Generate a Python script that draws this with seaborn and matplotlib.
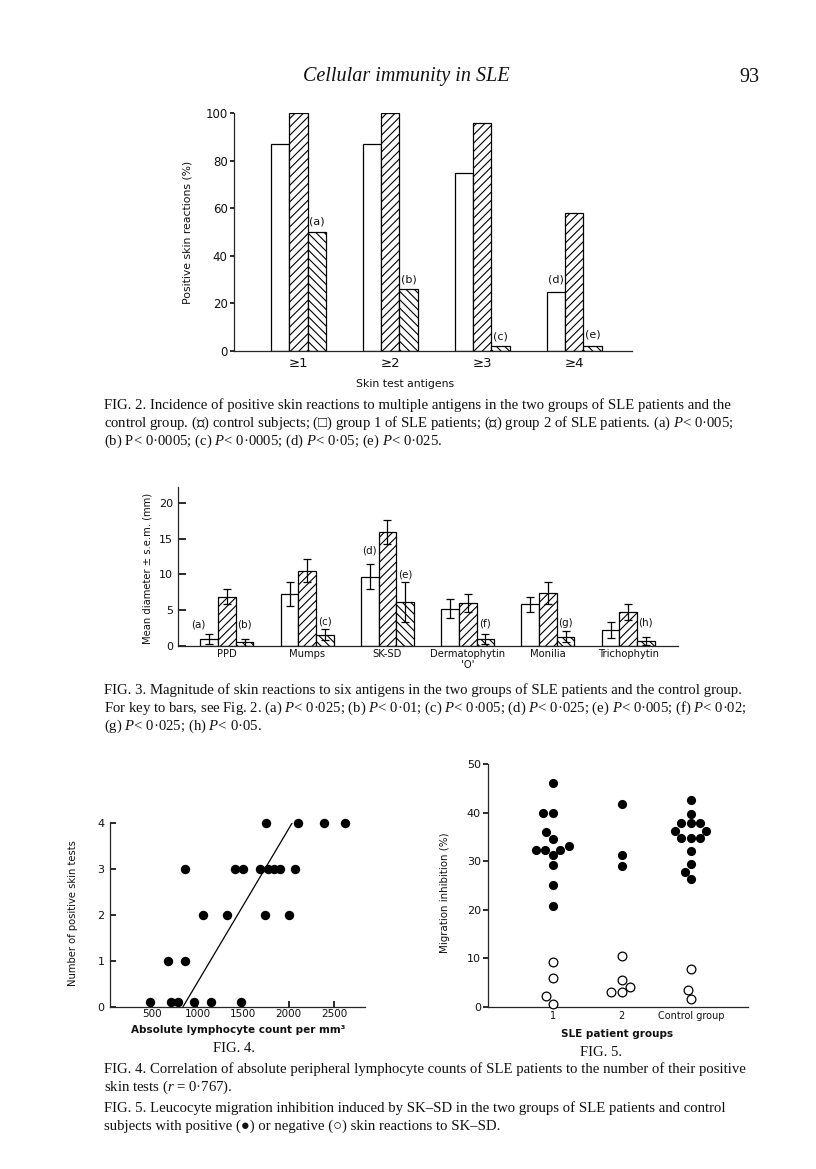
import numpy as np
import pandas as pd
import matplotlib
matplotlib.use('Agg')
import matplotlib.pyplot as plt
import seaborn as sns

W, H = 816, 1169

# Fig. 2 - percent positive skin reactions
fig2_antigens = ['≥1', '≥2', '≥3', '≥4']
fig2_group1 = [87, 87, 75, 25]
fig2_control = [100, 100, 96, 58]
fig2_group2 = [50, 26, 2, 2]
# (label, antigen index, bar index, y)
fig2_notes = [('(a)', 0, 2, 54.5), ('(b)', 1, 2, 30), ('(c)', 2, 2, 6),
              ('(d)', 3, 0, 30), ('(e)', 3, 2, 7)]

# Fig. 3 - mean diameter +- s.e.m.
fig3_antigens = ['PPD', 'Mumps', 'SK-SD', "Dermatophytin\n'O'", 'Monilia', 'Trichophytin']
fig3_group1_mean = [1.0, 7.3, 9.7, 5.2, 5.8, 2.2]
fig3_group1_sem = [0.7, 1.7, 1.8, 1.3, 1.0, 1.1]
fig3_control_mean = [6.9, 10.5, 15.9, 6.0, 7.4, 4.8]
fig3_control_sem = [1.1, 1.6, 1.7, 1.2, 1.5, 1.1]
fig3_group2_mean = [0.5, 1.6, 6.1, 1.0, 1.3, 0.7]
fig3_group2_sem = [0.45, 0.8, 2.8, 0.7, 0.8, 0.55]
fig3_notes = [('(a)', 0, 0, 3.0, -0.6), ('(b)', 0, 2, 3.0, 0), ('(c)', 1, 2, 3.4, 0),
              ('(d)', 2, 0, 13.4, 0), ('(e)', 2, 2, 10.0, 0), ('(f)', 3, 2, 3.2, 0),
              ('(g)', 4, 2, 3.2, 0), ('(h)', 5, 2, 3.3, 0)]

# Fig. 4 - lymphocyte count vs number of positive skin tests
fig4_count = [475, 707, 791, 962, 1144, 1482,
              675, 864,
              1056, 1325, 1744, 2009,
              864, 1409, 1500, 1682, 1773, 1845, 1911, 2075,
              1751, 2104, 2391, 2616]
fig4_tests = [0.1] * 6 + [1] * 2 + [2] * 4 + [3] * 8 + [4] * 4
fig4_line_x = [840, 2040]
fig4_line_y = [0, 4]

# Fig. 5 - migration inhibition
fig5_groups = ['1', '2', 'Control group']
fig5_g1_pos = [46.0, 39.9, 39.9, 36.0, 34.6, 33.2, 32.4, 32.4, 32.4, 31.2, 29.3, 25.1, 20.7]
fig5_g1_neg = [9.3, 5.9, 2.3, 0.7]
fig5_g2_pos = [41.7, 31.3, 29.0]
fig5_g2_neg = [10.4, 5.5, 4.2, 3.0, 3.0]
fig5_ctl_pos = [42.5, 39.7, 37.8, 37.8, 37.8, 36.2, 36.2, 34.7, 34.7, 34.7, 32.0, 29.5, 27.8, 26.3]
fig5_ctl_neg = [7.9, 3.6, 1.6]

sns.set_theme(style='ticks')
plt.rcParams['font.family'] = ['DejaVu Sans']
plt.rcParams['mathtext.fontset'] = 'custom'
plt.rcParams['mathtext.it'] = 'Liberation Serif:italic'
plt.rcParams['mathtext.rm'] = 'Liberation Serif'
plt.rcParams['hatch.linewidth'] = 0.8
plt.rcParams['axes.linewidth'] = 0.9
INK = '#111111'
SERIF = ['Liberation Serif', 'DejaVu Sans']

fig = plt.figure(figsize=(W / 100, H / 100), dpi=100)
fig.patch.set_facecolor('white')


def add_ax(l, t, r, b):
    ax = fig.add_axes([l / W, 1 - b / H, (r - l) / W, (b - t) / H])
    ax.set_facecolor('none')
    sns.despine(ax=ax)
    return ax


def ftext(x, y, s, **kw):
    kw.setdefault('color', INK)
    return fig.text(x / W, 1 - y / H, s, **kw)


# page header
ftext(406, 77, 'Cellular immunity in SLE', ha='center', va='center', family=SERIF,
      style='italic', fontsize=14.5)
ftext(749, 77, '93', ha='center', va='center', family=SERIF, fontsize=14.5)

# ---------------- Fig. 2 ----------------
ax2 = add_ax(234, 113, 632, 351)
df2 = pd.DataFrame({
    'antigens': fig2_antigens * 3,
    'pct': fig2_group1 + fig2_control + fig2_group2,
    'group': ['g1'] * 4 + ['ctl'] * 4 + ['g2'] * 4,
})
sns.barplot(data=df2, x='antigens', y='pct', hue='group', hue_order=['g1', 'ctl', 'g2'],
            palette=['white', 'white', 'white'], saturation=1, width=0.6,
            edgecolor='black', linewidth=0.9, legend=False, ax=ax2)
for cont, h in zip(ax2.containers, ['', '////', '\\\\\\\\']):
    for bar in cont:
        bar.set_hatch(h)
for lab, i, j, y in fig2_notes:
    bar = ax2.containers[j][i]
    ax2.text(bar.get_x() + bar.get_width() / 2, y, lab, ha='center', va='center',
             fontsize=8, color=INK)
ax2.set_xlim(-0.70, 3.63)
ax2.set_ylim(0, 100)
ax2.set_yticks([0, 20, 40, 60, 80, 100])
ax2.tick_params(axis='y', direction='out', length=3, pad=1.5, labelsize=8.5, colors=INK)
ax2.tick_params(axis='x', length=0, pad=4.5, labelsize=9.5, colors=INK)
ax2.set_xlabel('')
ax2.set_ylabel('')
ftext(188, 232, 'Positive skin reactions (%)', rotation=90, ha='center', va='center', fontsize=7.8)
ftext(405, 384, 'Skin test antigens', ha='center', va='center', fontsize=7.8)

cap_kw = dict(family=SERIF, fontsize=10.6, ha='left', va='center')
ftext(104, 405, 'FIG. 2. Incidence of positive skin reactions to multiple antigens in the two groups of SLE patients and the', **cap_kw)
ftext(104, 423, 'control group. (▨) control subjects; (□) group 1 of SLE patients; (▧) group 2 of SLE patients. (a) $P$< 0·005;', **cap_kw)
ftext(104, 441, '(b) P< 0·0005; (c) $P$< 0·0005; (d) $P$< 0·05; (e) $P$< 0·025.', **cap_kw)

# ---------------- Fig. 3 ----------------
ax3 = add_ax(178, 487, 678, 646)
df3 = pd.DataFrame({
    'antigen': fig3_antigens * 3,
    'mm': fig3_group1_mean + fig3_control_mean + fig3_group2_mean,
    'group': ['g1'] * 6 + ['ctl'] * 6 + ['g2'] * 6,
})
sns.barplot(data=df3, x='antigen', y='mm', hue='group', hue_order=['g1', 'ctl', 'g2'],
            palette=['white', 'white', 'white'], saturation=1, width=0.66,
            edgecolor='black', linewidth=0.9, legend=False, errorbar=None, ax=ax3)
for cont, h, means, sems in zip(ax3.containers, ['', '////', '\\\\\\\\'],
                                [fig3_group1_mean, fig3_control_mean, fig3_group2_mean],
                                [fig3_group1_sem, fig3_control_sem, fig3_group2_sem]):
    xs = []
    for bar in cont:
        bar.set_hatch(h)
        xs.append(bar.get_x() + bar.get_width() / 2)
    ax3.errorbar(xs, means, yerr=sems, fmt='none', ecolor='black', elinewidth=0.9,
                 capsize=2.8, capthick=0.9)
for lab, i, j, y, dx in fig3_notes:
    bar = ax3.containers[j][i]
    ax3.text(bar.get_x() + bar.get_width() * (0.5 + dx), y, lab, ha='center', va='center',
             fontsize=7.5, color=INK)
ax3.set_xlim(-0.61, 5.62)
ax3.set_ylim(0, 22.2)
ax3.set_yticks([0, 5, 10, 15, 20])
ax3.tick_params(axis='y', direction='in', length=6, pad=3.5, labelsize=8, colors=INK)
ax3.tick_params(axis='x', length=0, pad=2.5, labelsize=7.2, colors=INK)
for t in ax3.get_xticklabels():
    t.set_linespacing(1.05)
ax3.set_xlabel('')
ax3.set_ylabel('')
ftext(148, 568, 'Mean diameter ± s.e.m. (mm)', rotation=90, ha='center', va='center', fontsize=7.2)

ftext(104, 690, 'FIG. 3. Magnitude of skin reactions to six antigens in the two groups of SLE patients and the control group.', **cap_kw)
ftext(104, 708, 'For key to bars, see Fig. 2. (a) $P$< 0·025; (b) $P$< 0·01; (c) $P$< 0·005; (d) $P$< 0·025; (e) $P$< 0·005; (f) $P$< 0·02;', **cap_kw)
ftext(104, 726, '(g) $P$< 0·025; (h) $P$< 0·05.', **cap_kw)

# ---------------- Fig. 4 ----------------
ax4 = add_ax(110, 823, 365, 1007)
sns.scatterplot(x=fig4_count, y=fig4_tests, color='black', s=46, linewidth=0,
                clip_on=False, ax=ax4)
sns.lineplot(x=fig4_line_x, y=fig4_line_y, color='black', linewidth=0.9, ax=ax4)
ax4.set_xlim(40, 2840)
ax4.set_ylim(0, 4)
ax4.set_xticks([500, 1000, 1500, 2000, 2500])
ax4.set_yticks([0, 1, 2, 3, 4])
ax4.tick_params(axis='x', direction='in', length=4, pad=1.5, labelsize=7.5, colors=INK)
ax4.tick_params(axis='y', direction='in', length=4, pad=4, labelsize=8, colors=INK)
ftext(73, 913, 'Number of positive skin tests', rotation=90, ha='center', va='center', fontsize=7.2)
ftext(238, 1030, 'Absolute lymphocyte count per mm³', ha='center', va='center',
      fontsize=7.5, fontweight='bold')
ftext(234, 1049, 'FIG. 4.', ha='center', va='center', family=SERIF, fontsize=10.5)

# ---------------- Fig. 5 ----------------
ax5 = add_ax(488, 764, 748, 1007)
df5 = pd.concat([
    pd.DataFrame({'group': '1', 'pct': fig5_g1_pos, 'skin': 'pos'}),
    pd.DataFrame({'group': '1', 'pct': fig5_g1_neg, 'skin': 'neg'}),
    pd.DataFrame({'group': '2', 'pct': fig5_g2_pos, 'skin': 'pos'}),
    pd.DataFrame({'group': '2', 'pct': fig5_g2_neg, 'skin': 'neg'}),
    pd.DataFrame({'group': 'Control group', 'pct': fig5_ctl_pos, 'skin': 'pos'}),
    pd.DataFrame({'group': 'Control group', 'pct': fig5_ctl_neg, 'skin': 'neg'}),
], ignore_index=True)
sns.swarmplot(data=df5[df5.skin == 'pos'], x='group', y='pct', order=fig5_groups,
              color='black', size=6.6, linewidth=0, clip_on=False, ax=ax5)
sns.swarmplot(data=df5[df5.skin == 'neg'], x='group', y='pct', order=fig5_groups,
              color='white', edgecolor='black', size=6.3, linewidth=0.9, clip_on=False, ax=ax5)
ax5.set_xlim(-0.94, 2.83)
ax5.set_ylim(0, 50)
ax5.set_yticks([0, 10, 20, 30, 40, 50])
ax5.tick_params(axis='y', direction='out', length=3.5, pad=1.5, labelsize=8, colors=INK)
ax5.tick_params(axis='x', length=0, pad=3, labelsize=7, colors=INK)
ax5.set_xlabel('')
ax5.set_ylabel('')
ftext(445, 893, 'Migration inhibition (%)', rotation=90, ha='center', va='center', fontsize=7.4)
ftext(617, 1034, 'SLE patient groups', ha='center', va='center', fontsize=7.5, fontweight='bold')
ftext(601, 1052, 'FIG. 5.', ha='center', va='center', family=SERIF, fontsize=10.5)

ftext(104, 1069, 'FIG. 4. Correlation of absolute peripheral lymphocyte counts of SLE patients to the number of their positive', **cap_kw)
ftext(104, 1087, 'skin tests ($r$ = 0·767).', **cap_kw)
ftext(104, 1108, 'FIG. 5. Leucocyte migration inhibition induced by SK–SD in the two groups of SLE patients and control', **cap_kw)
ftext(104, 1126, 'subjects with positive (●) or negative (○) skin reactions to SK–SD.', **cap_kw)

fig.savefig('out.png', dpi=100, facecolor='white')
